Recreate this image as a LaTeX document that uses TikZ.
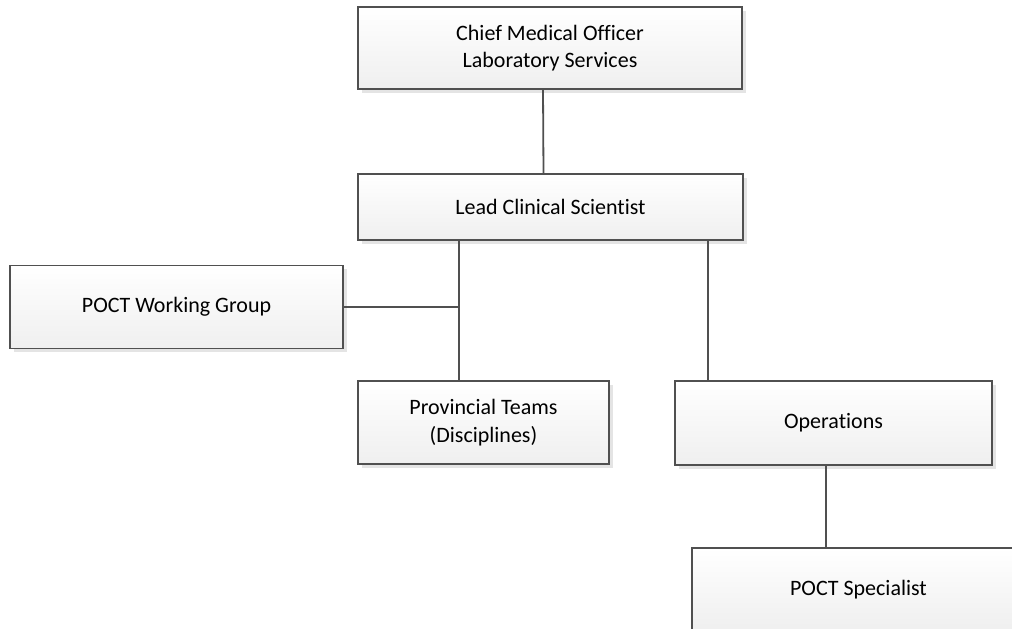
\documentclass[tikz,border=0pt]{standalone}
\usepackage{fontspec}
\setmainfont{Carlito}[Ligatures=NoCommon]
\usetikzlibrary{shadows}
\definecolor{edge}{HTML}{505050}
\definecolor{shade}{HTML}{E4E4E4}
\definecolor{fillbot}{HTML}{EFEFEF}
\tikzset{
  orgbox/.style={rectangle, draw=edge, line width=1.2pt, inner sep=0pt, outer sep=0pt,
    top color=white, bottom color=fillbot, align=center,
    font=\fontsize{22}{27.5}\selectfont,
    drop shadow={shadow xshift=3.5pt, shadow yshift=-3.5pt, fill=shade, opacity=1}},
  link/.style={draw=edge, line width=1.8pt}
}
\begin{document}
\begin{tikzpicture}[x=1pt, y=-1pt]
\clip (0,0) rectangle (1012,629);
\node[orgbox, minimum width=384pt, minimum height=82pt] (cmo) at (550,48) {Chief Medical Officer\\Laboratory Services};
\node[orgbox, minimum width=385pt, minimum height=66pt] (lead) at (550.5,207) {Lead Clinical Scientist};
\node[orgbox, minimum width=333pt, minimum height=83pt] (wg) at (176.5,307) {POCT Working Group};
\node[orgbox, minimum width=251pt, minimum height=83pt] (prov) at (483.5,422.5) {Provincial Teams\\(Disciplines)};
\node[orgbox, minimum width=317pt, minimum height=84pt] (ops) at (833.5,423) {Operations};
\node[orgbox, minimum width=333pt, minimum height=83pt] (spec) at (858.5,589.5) {POCT Specialist};
\coordinate (j) at (459,307);
\coordinate (k) at (708,381);
\draw[link] ([xshift=-7pt]cmo.south) -- ([xshift=-7pt]lead.north);
\draw[link] (lead.south -| j) -- (prov.north -| j);
\draw[link] (wg.east) -- (j);
\draw[link] (lead.south -| k) -- (k);
\draw[link] ([xshift=-7.5pt]ops.south) -- ([xshift=-7.5pt]ops.south |- spec.north);
\end{tikzpicture}
\end{document}
